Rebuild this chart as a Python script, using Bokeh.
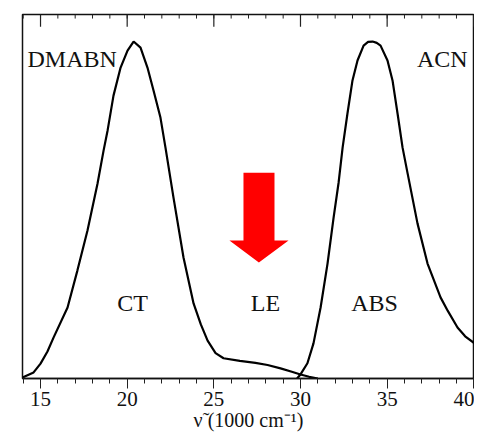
from bokeh.plotting import figure
from bokeh.models import Label, PolyAnnotation, Range1d, FixedTicker
from bokeh.embed import file_html
from bokeh.resources import INLINE

# Emission spectrum of DMABN in ACN (CT band with LE shoulder)
ct_x = [13.96, 14.6, 15.0, 15.4, 15.75, 16.56, 17.13, 17.71, 18.29, 18.64, 18.87, 19.21,
        19.62, 20.02, 20.37, 20.77, 21.17, 21.52, 21.92, 22.21, 22.67, 23.25, 23.83, 24.25,
        24.64, 25.1, 25.56, 26.5, 27.4, 28.1, 28.85, 29.5, 30.0, 30.5, 31.0]
ct_y = [0.003, 0.018, 0.044, 0.080, 0.121, 0.210, 0.320, 0.438, 0.577, 0.675, 0.734, 0.837,
        0.920, 0.970, 0.997, 0.979, 0.920, 0.852, 0.772, 0.683, 0.536, 0.358, 0.222, 0.160,
        0.112, 0.075, 0.060, 0.052, 0.046, 0.040, 0.030, 0.020, 0.012, 0.005, 0.0]

# Absorption spectrum
abs_x = [29.8, 30.0, 30.4, 30.75, 31.16, 31.56, 31.91, 32.2, 32.43, 32.71, 33.0, 33.29,
         33.64, 33.9, 34.16, 34.4, 34.62, 35.02, 35.31, 35.6, 35.89, 36.18, 36.75, 37.33,
         38.08, 38.5, 39.06, 39.5, 40.04]
abs_y = [0.0, 0.012, 0.045, 0.104, 0.210, 0.340, 0.476, 0.580, 0.683, 0.784, 0.882, 0.941,
         0.985, 0.996, 0.997, 0.993, 0.985, 0.941, 0.882, 0.784, 0.683, 0.607, 0.459, 0.340,
         0.240, 0.200, 0.151, 0.125, 0.104]

x_ticks = [15, 20, 25, 30, 35, 40]
x_minor = list(range(14, 41))
x_label = "\u03bd\u0303\u00a0(1000 cm\u207b\u00b9)"

SERIF = "Liberation Serif"
INK = "#111111"
Y_TOP = 1.077

p = figure(width=474, height=438, output_backend="svg", toolbar_location=None,
           x_range=Range1d(13.96, 40.04), y_range=Range1d(0, Y_TOP),
           min_border_left=22, min_border_right=0, min_border_top=14, min_border_bottom=60)
p.grid.visible = False
p.yaxis.visible = False
p.outline_line_color = INK
p.outline_line_width = 1.5
p.background_fill_color = "white"
p.border_fill_color = "white"

# bottom axis
xa = p.xaxis[0]
xa.ticker = FixedTicker(ticks=x_ticks, minor_ticks=x_minor)
xa.axis_line_color = INK
xa.axis_line_width = 1.5
xa.major_tick_in = 0
xa.major_tick_out = 10
xa.minor_tick_in = 0
xa.minor_tick_out = 5
xa.major_tick_line_color = "#222222"
xa.minor_tick_line_color = "#222222"
xa.major_label_text_font = SERIF
xa.major_label_text_font_size = "21px"
xa.major_label_text_color = INK
xa.major_label_standoff = 3
xa.axis_label = x_label
xa.axis_label_text_font = SERIF
xa.axis_label_text_font_style = "normal"
xa.axis_label_text_font_size = "20px"
xa.axis_label_text_color = INK
xa.axis_label_standoff = 0

# inward ticks along the top edge of the frame
p.segment(x0=x_ticks, y0=[Y_TOP] * len(x_ticks), x1=x_ticks,
          y1=[Y_TOP - 0.036] * len(x_ticks), line_color="#222222", line_width=1.2)
p.segment(x0=x_minor, y0=[Y_TOP] * len(x_minor), x1=x_minor,
          y1=[Y_TOP - 0.012] * len(x_minor), line_color="#222222", line_width=1)

p.line(ct_x, ct_y, line_color="black", line_width=2.2)
p.line(abs_x, abs_y, line_color="black", line_width=2.2)

# red arrow pointing down to the LE region
arrow = PolyAnnotation(
    xs=[26.71, 28.5, 28.5, 29.31, 27.6, 25.9, 26.71],
    ys=[0.609, 0.609, 0.408, 0.408, 0.343, 0.408, 0.408],
    xs_units="data", ys_units="data",
    fill_color="red", fill_alpha=1.0, line_color=None)
p.add_layout(arrow)

def lab(x, y, t, align, size="24px"):
    p.add_layout(Label(x=x, y=y, text=t, text_font=SERIF, text_font_size=size,
                       text_align=align, text_baseline="alphabetic", text_color=INK))

lab(14.25, 0.944, "DMABN", "left")
lab(39.64, 0.944, "ACN", "right")
lab(20.31, 0.222, "CT", "center")
lab(27.98, 0.222, "LE", "center")
lab(34.27, 0.222, "ABS", "center")

open("out.html", "w").write(file_html(p, INLINE))
